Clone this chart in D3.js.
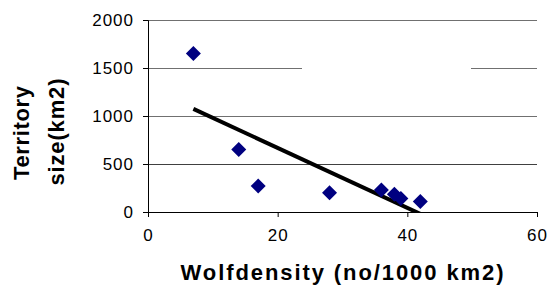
<!DOCTYPE html>
<html><head><meta charset="utf-8">
<script src="https://cdn.jsdelivr.net/npm/d3@7"></script>
<style>body{margin:0;background:#fff}svg{display:block}</style>
</head><body>
<script>
const density = [7, 14, 17, 28, 36, 38, 39, 42];
const territory = [1650, 650, 270, 200, 230, 185, 140, 110];
const xTicks = [0, 20, 40, 60];
const yTicks = [0, 500, 1000, 1500, 2000];

const W = 552, H = 285;
const svg = d3.select("body").append("svg").attr("width", W).attr("height", H);
const x = d3.scaleLinear().domain([0, 60]).range([148, 537]);
const y = d3.scaleLinear().domain([0, 2000]).range([212, 20]);
const font = "Liberation Sans, Arial, sans-serif";

// gridlines
svg.append("g").selectAll("line").data(yTicks.filter(d => d > 0)).join("line")
  .attr("x1", x(0)).attr("x2", x(60)).attr("y1", d => y(d)).attr("y2", d => y(d))
  .attr("stroke", d => d === 500 ? "#404040" : "#707070").attr("stroke-width", 1).attr("shape-rendering", "crispEdges");
// blank area over the 1500 gridline (as in the reference)
svg.append("rect").attr("x", 302).attr("y", y(1500) - 2).attr("width", 169).attr("height", 4).attr("fill", "#fff");

// axes
const fmt = d3.format("d");
const xa = svg.append("g").attr("transform", `translate(0,${y(0)})`)
  .call(d3.axisBottom(x).tickValues(xTicks).tickFormat(fmt).tickSize(5).tickPadding(12));
const ya = svg.append("g").attr("transform", `translate(${x(0)},0)`)
  .call(d3.axisLeft(y).tickValues(yTicks).tickFormat(fmt).tickSize(5).tickPadding(9));
[xa, ya].forEach(a => {
  a.select(".domain").attr("stroke", "#000").attr("stroke-width", 1);
  a.selectAll(".tick line").attr("stroke", "#000");
  a.selectAll("text").attr("font-family", font).attr("font-size", 17)
    .attr("letter-spacing", 1).attr("fill", "#000");
});

// regression trendline
const mx = d3.mean(density), my = d3.mean(territory);
const slope = d3.sum(density, (d, i) => (d - mx) * (territory[i] - my)) / d3.sum(density, d => (d - mx) ** 2);
const icpt = my - slope * mx;
const x0 = d3.min(density), x1 = d3.max(density);
svg.append("clipPath").attr("id", "pc").append("rect")
  .attr("x", x(0)).attr("y", y(2000)).attr("width", x(60) - x(0)).attr("height", y(0) - y(2000));
svg.append("line").attr("clip-path", "url(#pc)")
  .attr("x1", x(x0)).attr("y1", y(icpt + slope * x0))
  .attr("x2", x(x1)).attr("y2", y(icpt + slope * x1))
  .attr("stroke", "#000").attr("stroke-width", 4);

// points
const pts = density.map((d, i) => ({x: d, y: territory[i]}));
svg.append("g").selectAll("path").data(pts).join("path")
  .attr("transform", d => `translate(${x(d.x)},${y(d.y)})`)
  .attr("d", "M0,-7.5L7.5,0L0,7.5L-7.5,0Z")
  .attr("fill", "#000080");

// titles
svg.append("text").attr("x", 342).attr("y", 280).attr("text-anchor", "middle")
  .attr("font-family", font).attr("font-weight", "bold").attr("font-size", 22)
  .attr("textLength", 323).text("Wolfdensity (no/1000 km2)");
const yt = svg.append("g").attr("font-family", font).attr("font-weight", "bold").attr("font-size", 22).attr("text-anchor", "middle");
yt.append("text").attr("transform", "translate(29,133) rotate(-90)").attr("textLength", 94).text("Territory");
yt.append("text").attr("transform", "translate(64,132) rotate(-90)").attr("textLength", 107).text("size(km2)");
</script>
</body></html>
